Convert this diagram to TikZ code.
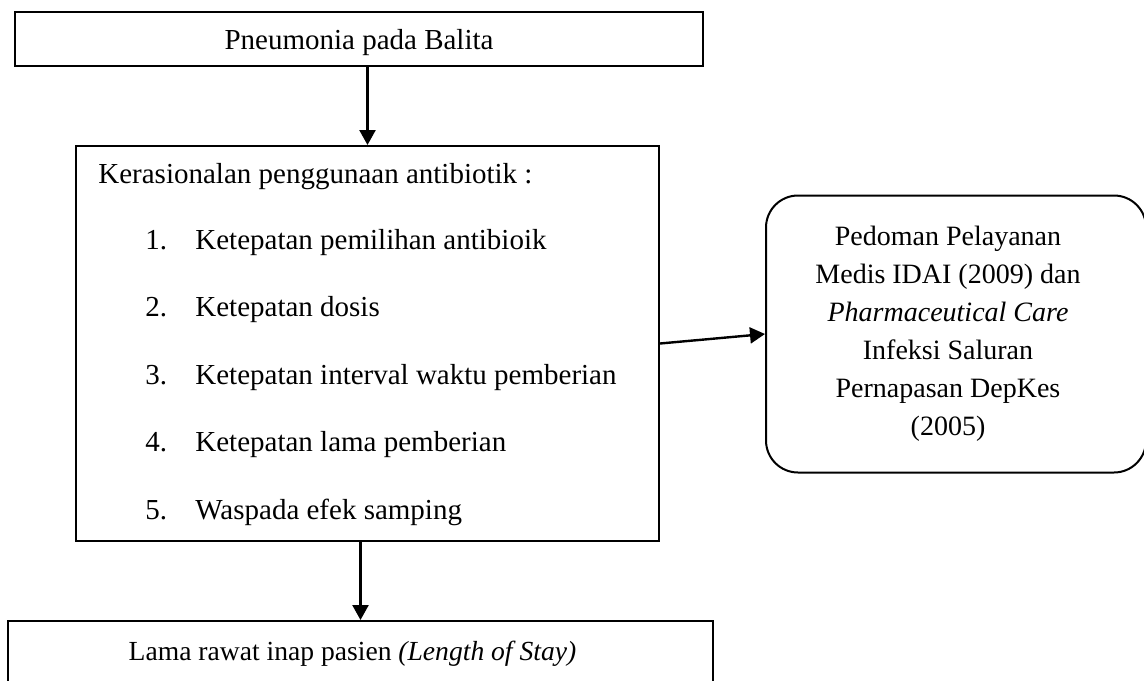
\documentclass[tikz,border=0pt]{standalone}
\usepackage{fontspec}
\setmainfont{Liberation Serif}
\usetikzlibrary{arrows.meta}

\tikzset{
  plainbox/.style={draw, line width=1pt, inner sep=0pt},
  guidebox/.style={draw, line width=1pt, rounded corners=16pt, inner sep=0pt},
  itemtext/.style={anchor=base west, inner sep=0pt},
  flow/.style={line width=1.2pt, -{Triangle[width=8pt,length=7.5pt]}}
}

\begin{document}
\begin{tikzpicture}[x=0.5pt, y=-0.5pt, font=\fontsize{14.5pt}{19.25pt}\selectfont]
    \useasboundingbox (0,0) rectangle (1144,680);

    % Draw the boxes
    \node[plainbox, minimum width=344pt, minimum height=27pt, text depth=0pt]
      (balita) at (359,39) {Pneumonia pada Balita};
    \node[plainbox, minimum width=291.5pt, minimum height=197.5pt]
      (rasional) at (367.5,343.5) {};
    \node[guidebox, minimum width=190pt, minimum height=138.5pt,
          font=\fontsize{14pt}{19pt}\selectfont]
      (pedoman) at (956,334)
      {\parbox{150pt}{\centering
        Pedoman Pelayanan\\
        Medis IDAI (2009) dan\\
        \textit{Pharmaceutical Care}\\
        Infeksi Saluran\\
        Pernapasan DepKes\\
        (2005)}\kern8pt};
    \node[plainbox, minimum width=352.5pt, minimum height=32.5pt,
          font=\fontsize{13.8pt}{17pt}\selectfont]
      (los) at (360.5,653.5) {Lama rawat inap pasien \textit{(Length of Stay)}\kern8pt};

    % Label the criteria
    \node[itemtext] (judul) at (98,183) {Kerasionalan penggunaan antibiotik :};
    \node[itemtext] (tepat1) at (145,249) {\makebox[25pt][l]{1.}Ketepatan pemilihan antibioik};
    \node[itemtext] (tepat2) at (145,316.5) {\makebox[25pt][l]{2.}Ketepatan dosis};
    \node[itemtext] (tepat3) at (145,384) {\makebox[25pt][l]{3.}Ketepatan interval waktu pemberian};
    \node[itemtext] (tepat4) at (145,451.5) {\makebox[25pt][l]{4.}Ketepatan lama pemberian};
    \node[itemtext] (tepat5) at (145,519) {\makebox[25pt][l]{5.}Waspada efek samping};

    % Draw the arrows
    \draw[flow] (balita.south -| rasional.north) -- (rasional.north);
    \draw[flow] (rasional.east) -- (pedoman.west);
    \draw[flow] (rasional.south -| los.north) -- (los.north);
  \end{tikzpicture}
\end{document}
